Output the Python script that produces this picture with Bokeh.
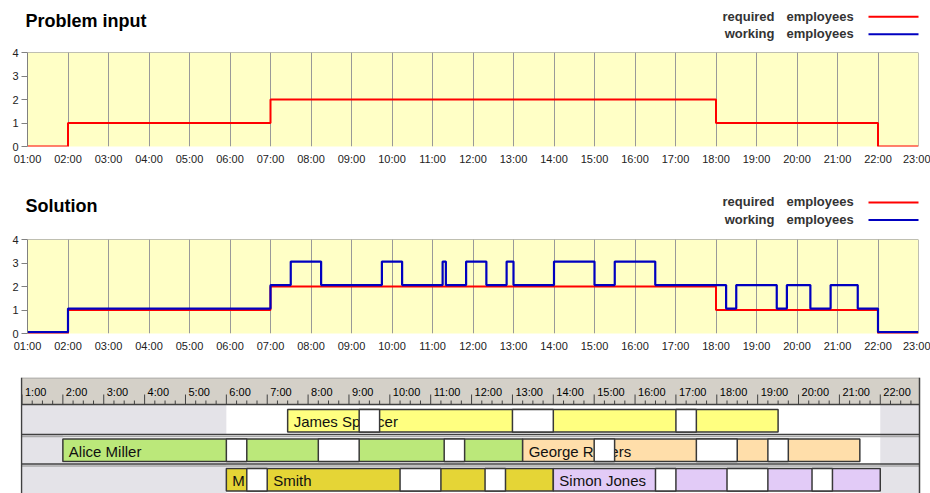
from bokeh.plotting import figure
from bokeh.models import Range1d, FixedTicker, Span
from bokeh.layouts import column
from bokeh.embed import file_html
from bokeh.resources import INLINE
from bokeh.core.properties import value

# ---------------- data ----------------
hours = [1, 2, 3, 4, 5, 6, 7, 8, 9, 10, 11, 12, 13, 14, 15, 16, 17, 18, 19, 20, 21, 22, 23]
hour_labels = ["01:00", "02:00", "03:00", "04:00", "05:00", "06:00", "07:00", "08:00",
               "09:00", "10:00", "11:00", "12:00", "13:00", "14:00", "15:00", "16:00",
               "17:00", "18:00", "19:00", "20:00", "21:00", "22:00", "23:00"]
y_ticks = [0, 1, 2, 3, 4]

required_t = [1, 2, 7, 18, 22, 23]
required_v = [0, 1, 2, 1, 0, 0]

working_t = [1, 2, 7, 7.5, 8.25, 9.75, 10.25, 11.25, 11.33, 11.83, 12.33, 12.83, 13.0,
             14.0, 15.0, 15.5, 16.5, 18.25, 18.5, 19.5, 19.75, 20.33, 20.83, 21.5, 22, 23]
working_v = [0, 1, 2, 3, 2, 3, 2, 3, 2, 3, 2, 3, 2,
             3, 2, 3, 2, 1, 2, 1, 2, 1, 2, 1, 0, 0]

legend_words = ["required", "working"]
legend_noun = "employees"

gantt_hours = [1, 2, 3, 4, 5, 6, 7, 8, 9, 10, 11, 12, 13, 14, 15, 16, 17, 18, 19, 20, 21, 22]
gantt_labels = ["1:00", "2:00", "3:00", "4:00", "5:00", "6:00", "7:00", "8:00", "9:00",
                "10:00", "11:00", "12:00", "13:00", "14:00", "15:00", "16:00", "17:00",
                "18:00", "19:00", "20:00", "21:00", "22:00"]

avail_row = [0, 1, 2]
avail_start = [6.0, 2.0, 6.0]
avail_end = [22.0, 22.0, 22.0]

shift_row = [0, 1, 1, 2, 2]
shift_start = [7.5, 2.0, 13.25, 6.0, 14.0]
shift_end = [19.5, 13.25, 21.5, 14.0, 22.0]
shift_color = ["#FFFF80", "#BBE87A", "#FFDEAA", "#E5D536", "#E2CBF7"]

label_text = ["James Spencer", "Alice Miller", "George Rogers", "M", "Smith", "Simon Jones"]
label_row = [0, 1, 1, 2, 2, 2]
label_start = [7.5, 2.0, 13.25, 6.0, 7.0, 14.0]

break_row = [0, 0, 0, 1, 1, 1, 1, 1, 1, 2, 2, 2, 2, 2, 2]
break_start = [9.25, 13.0, 17.0, 6.0, 8.25, 11.33, 15.0, 17.5, 19.25,
               6.5, 10.25, 12.33, 16.5, 18.25, 20.33]
break_end = [9.75, 14.0, 17.5, 6.5, 9.25, 11.83, 15.5, 18.5, 19.75,
             7.0, 11.25, 12.83, 17.0, 19.25, 20.83]

FONT = "Liberation Sans"
W = 930
RED = "#FF0000"
BLUE = "#0000C0"


def header(title, height, title_y, leg_y):
    """Title + legend strip drawn in pixel coordinates."""
    h = figure(width=W, height=height, x_range=Range1d(0, W), y_range=Range1d(height, 0),
               output_backend="svg", toolbar_location=None, x_axis_type=None,
               y_axis_type=None, min_border=0, min_border_left=0, min_border_right=0,
               min_border_top=0, min_border_bottom=0, frame_align=False,
               outline_line_color=None, background_fill_color="white",
               border_fill_color="white")
    h.grid.visible = False
    h.text(x=[25], y=[title_y], text=[title], text_font=value(FONT), text_font_size="18px",
           text_font_style="bold", text_color="#000000", text_baseline="middle")
    ys = [leg_y, leg_y + 17.5]
    h.text(x=[774, 774], y=ys, text=legend_words, text_font=value(FONT),
           text_font_size="13px", text_font_style="bold", text_color="#333333",
           text_baseline="middle", text_align="right")
    h.text(x=[786, 786], y=ys, text=[legend_noun, legend_noun], text_font=value(FONT),
           text_font_size="13px", text_font_style="bold", text_color="#333333",
           text_baseline="middle", text_align="left")
    h.segment(x0=[868, 868], x1=[918, 918], y0=[y + 0.5 for y in ys],
              y1=[y + 0.5 for y in ys], line_color=[RED, BLUE], line_width=2)
    return h


def chart(height, top, bottom, show_working):
    p = figure(width=W, height=height, x_range=Range1d(1, 23), y_range=Range1d(0, 4),
               output_backend="svg", toolbar_location=None, frame_align=False,
               min_border_left=27, min_border_right=12, min_border_top=top,
               min_border_bottom=bottom, background_fill_color="#FFFFC6",
               border_fill_color="white", outline_line_color=None)
    p.xaxis.ticker = FixedTicker(ticks=hours)
    p.xaxis.major_label_overrides = {h: l for h, l in zip(hours, hour_labels)}
    p.xaxis.axis_line_color = None
    p.xaxis.major_tick_line_color = None
    p.xaxis.minor_tick_line_color = None
    p.xaxis.major_tick_out = 0
    p.xaxis.major_tick_in = 0
    p.xaxis.major_label_standoff = 6
    p.yaxis.ticker = FixedTicker(ticks=y_ticks)
    p.yaxis.axis_line_color = "#808080"
    p.yaxis.major_tick_line_color = "#808080"
    p.yaxis.minor_tick_line_color = None
    p.yaxis.major_tick_out = 6
    p.yaxis.major_tick_in = 0
    p.yaxis.major_label_standoff = 3
    for ax in (p.xaxis, p.yaxis):
        ax.major_label_text_font = FONT
        ax.major_label_text_font_size = "11px"
        ax.major_label_text_color = "#222222"
    p.xgrid.grid_line_color = "#999999"
    p.ygrid.grid_line_color = None
    p.add_layout(Span(location=4, dimension="width", line_color="#808080", line_width=1))
    p.add_layout(Span(location=23, dimension="height", line_color="#808080", line_width=1))

    p.step(required_t, required_v, mode="after", line_color=RED, line_width=2)
    if show_working:
        p.extra_y_ranges = {"shift": Range1d(-0.06, 3.94)}
        p.step(working_t, working_v, mode="after", line_color=BLUE, line_width=2.2,
               y_range_name="shift")
    return p


h1 = header("Problem input", 46, 20.3, 15.8)
p1 = chart(134, 6, 34, False)
h2 = header("Solution", 52, 25, 21.4)
p2 = chart(145, 7, 44, True)

# ---------------- gantt ----------------
GH = 116
PXH = 40.87
X_START = 1 + (20 - 21.5) / PXH
X_END = X_START + 901 / PXH
GX0 = 1 + (21 - 21.5) / PXH
GX1 = 1 + (919 - 21.5) / PXH
HEAD = 27
PITCH = 29.5

g = figure(width=W, height=GH, x_range=Range1d(X_START, X_END), y_range=Range1d(GH, 0),
           output_backend="svg", toolbar_location=None, x_axis_type=None, y_axis_type=None,
           min_border_left=20, min_border_right=9, min_border_top=0, min_border_bottom=0,
           frame_align=False, outline_line_color=None, background_fill_color="white",
           border_fill_color="white")
g.grid.visible = False

row_tops = [HEAD + PITCH * r for r in avail_row]
g.quad(left=[GX0] * 3, right=[GX1] * 3, top=row_tops, bottom=[t + PITCH for t in row_tops],
       fill_color="#E4E3E8", line_color=None)
g.quad(left=avail_start, right=avail_end, top=row_tops, bottom=[t + PITCH for t in row_tops],
       fill_color="#FFFFFF", line_color=None)
# header band
g.quad(left=[GX0], right=[GX1], top=[0], bottom=[HEAD], fill_color="#D4D0C8", line_color=None)
g.segment(x0=[GX0], x1=[GX1], y0=[0.5], y1=[0.5], line_color="#A0A0A0", line_width=1)
g.segment(x0=[GX0], x1=[GX1], y0=[HEAD], y1=[HEAD], line_color="#404040", line_width=1.5)
minor = [h + q for h in gantt_hours for q in (0.25, 0.5, 0.75) if h + q < GX1]
g.segment(x0=minor, x1=minor, y0=[HEAD - 4] * len(minor), y1=[HEAD] * len(minor),
          line_color="#404040", line_width=1)
g.segment(x0=gantt_hours, x1=gantt_hours, y0=[HEAD - 10] * len(gantt_hours),
          y1=[HEAD] * len(gantt_hours), line_color="#404040", line_width=1)
g.text(x=gantt_hours, y=[14] * len(gantt_hours), text=gantt_labels, x_offset=3,
       text_font=value(FONT), text_font_size="11px", text_color="#000000",
       text_baseline="middle", text_align="left")
# row separators
sep = [HEAD + PITCH * r for r in (1, 2)]
g.segment(x0=[GX0] * 2, x1=[GX1] * 2, y0=[s + 0.5 for s in sep], y1=[s + 0.5 for s in sep],
          line_color="#404040", line_width=1.5)
g.segment(x0=[GX0] * 2, x1=[GX1] * 2, y0=[s + 2.5 for s in sep], y1=[s + 2.5 for s in sep],
          line_color="#A8A8A8", line_width=1.5)
# shift bars, names, breaks
g.quad(left=shift_start, right=shift_end, top=[HEAD + PITCH * r + 5 for r in shift_row],
       bottom=[HEAD + PITCH * r + 27.5 for r in shift_row], fill_color=shift_color,
       line_color="#383838", line_width=1.5)
g.text(x=label_start, y=[HEAD + PITCH * r + 17.25 for r in label_row], text=label_text,
       x_offset=6, text_font=value(FONT), text_font_size="15px", text_color="#111111",
       text_baseline="middle", text_align="left")
g.quad(left=break_start, right=break_end, top=[HEAD + PITCH * r + 5 for r in break_row],
       bottom=[HEAD + PITCH * r + 27.5 for r in break_row], fill_color="#FFFFFF",
       line_color="#383838", line_width=1.5)
g.segment(x0=[GX0, GX1], x1=[GX0, GX1], y0=[0, 0], y1=[GH, GH], line_color="#404040",
          line_width=1.5)

layout = column(h1, p1, h2, p2, g, spacing=0)
open("out.html", "w").write(file_html(layout, INLINE))
